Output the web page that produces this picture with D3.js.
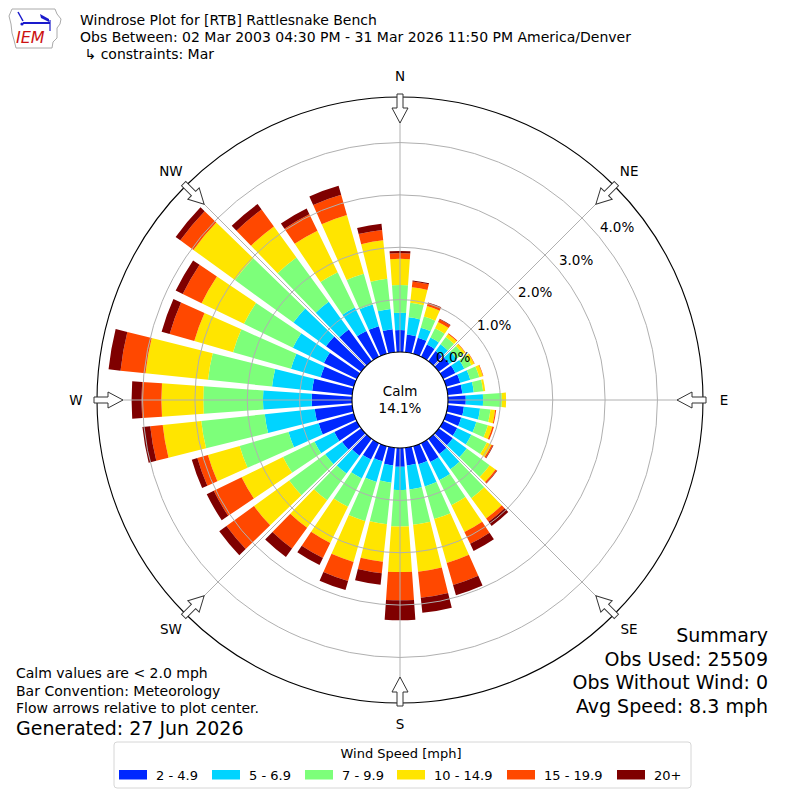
<!DOCTYPE html>
<html>
<head>
<meta charset="utf-8">
<script src="https://cdn.jsdelivr.net/npm/d3@7"></script>
<style>
  body { margin: 0; background: #fff; }
  text { font-family: "DejaVu Sans", sans-serif; }
</style>
</head>
<body>
<script>
// wind direction bins (degrees, meteorological)
const directions = [0, 10, 20, 30, 40, 50, 60, 70, 80, 90, 100, 110, 120, 130, 140, 150, 160, 170,
                    180, 190, 200, 210, 220, 230, 240, 250, 260, 270, 280, 290, 300, 310, 320, 330, 340, 350];
const speedBins = ["2 - 4.9", "5 - 6.9", "7 - 9.9", "10 - 14.9", "15 - 19.9", "20+"];

// frequency (%) per direction for each speed bin
const s2to5   = [0.42, 0.34, 0.32, 0.26, 0.24, 0.25, 0.26, 0.28, 0.28, 0.34, 0.31, 0.30, 0.30, 0.33, 0.36, 0.40, 0.36, 0.34,
                 0.36, 0.34, 0.30, 0.35, 0.40, 0.45, 0.48, 0.70, 0.72, 0.77, 0.77, 0.66, 0.70, 0.83, 0.75, 0.55, 0.55, 0.44];
const s5to7   = [0.33, 0.33, 0.20, 0.15, 0.16, 0.17, 0.19, 0.20, 0.22, 0.33, 0.31, 0.30, 0.30, 0.33, 0.36, 0.39, 0.44, 0.46,
                 0.44, 0.33, 0.41, 0.40, 0.42, 0.40, 0.42, 0.60, 0.96, 0.93, 0.77, 0.59, 0.66, 0.77, 0.65, 0.50, 0.43, 0.39];
const s7to10  = [0.53, 0.28, 0.22, 0.20, 0.17, 0.15, 0.15, 0.18, 0.18, 0.36, 0.20, 0.23, 0.33, 0.54, 0.68, 0.53, 0.65, 0.68,
                 0.70, 0.80, 0.78, 0.60, 0.63, 0.85, 0.67, 0.97, 1.22, 1.14, 1.23, 1.15, 1.04, 1.38, 1.05, 0.75, 0.61, 0.58];
const s10to15 = [0.50, 0.30, 0.21, 0.13, 0.07, 0.05, 0.06, 0.07, 0.04, 0.08, 0.09, 0.09, 0.10, 0.14, 0.48, 0.57, 0.87, 0.90,
                 0.87, 0.72, 0.81, 0.77, 0.65, 0.83, 0.88, 0.63, 0.74, 0.80, 1.20, 0.77, 0.90, 0.98, 0.73, 0.88, 1.17, 0.74];
const s15to20 = [0.11, 0.11, 0.06, 0.06, 0.02, 0.01, 0.01, 0.01, 0.00, 0.00, 0.02, 0.03, 0.03, 0.03, 0.08, 0.25, 0.44, 0.50,
                 0.54, 0.22, 0.38, 0.32, 0.49, 0.65, 0.59, 0.21, 0.24, 0.38, 0.48, 0.49, 0.40, 0.31, 0.40, 0.35, 0.40, 0.20];
const s20plus = [0.04, 0.02, 0.01, 0.01, 0.00, 0.00, 0.00, 0.00, 0.00, 0.00, 0.00, 0.00, 0.01, 0.01, 0.10, 0.15, 0.20, 0.29,
                 0.38, 0.22, 0.18, 0.15, 0.20, 0.17, 0.15, 0.11, 0.15, 0.19, 0.23, 0.16, 0.15, 0.11, 0.13, 0.12, 0.18, 0.12];

const ringTicks = [0, 1, 2, 3, 4];
const compass = ["N", "NE", "E", "SE", "S", "SW", "W", "NW"];
const calmPct = 14.1;
const summary = ["Summary", "Obs Used: 25509", "Obs Without Wind: 0", "Avg Speed: 8.3 mph"];
const notes = ["Calm values are < 2.0 mph", "Bar Convention: Meteorology", "Flow arrows relative to plot center."];

const colors = ["#0028ff", "#00d4ff", "#7dff7a", "#ffe500", "#ff4800", "#7f0000"];

const width = 800, height = 800;
const cx = 400, cy = 400;

const svg = d3.select("body").append("svg")
    .attr("width", width)
    .attr("height", height);

// radial scale: calm circle is the 0% baseline
const r = d3.scaleLinear().domain([0, 4.87]).range([48, 303]);
const rOuter = r(4.87);

const g = svg.append("g").attr("transform", `translate(${cx},${cy})`);

// stack the speed bins
const rows = directions.map((d, i) => ({
    dir: d,
    b0: s2to5[i], b1: s5to7[i], b2: s7to10[i], b3: s10to15[i], b4: s15to20[i], b5: s20plus[i]
}));
const keys = ["b0", "b1", "b2", "b3", "b4", "b5"];
const stacked = d3.stack().keys(keys)(rows);

const halfWidth = 4 * Math.PI / 180;
const arc = d3.arc()
    .innerRadius(d => r(d[0]))
    .outerRadius(d => r(d[1]))
    .startAngle(d => d.data.dir * Math.PI / 180 - halfWidth)
    .endAngle(d => d.data.dir * Math.PI / 180 + halfWidth);

g.selectAll("g.layer")
    .data(stacked)
    .join("g")
    .attr("class", "layer")
    .attr("fill", (d, i) => colors[i])
    .selectAll("path")
    .data(d => d)
    .join("path")
    .attr("d", arc);

// grid circles
g.selectAll("circle.grid")
    .data(ringTicks.slice(1))
    .join("circle")
    .attr("class", "grid")
    .attr("r", d => r(d))
    .attr("fill", "none")
    .attr("stroke", "#b0b0b0")
    .attr("stroke-width", 1);

// radial grid lines
g.selectAll("line.spoke")
    .data(d3.range(8))
    .join("line")
    .attr("class", "spoke")
    .attr("x1", 0).attr("y1", 0)
    .attr("x2", i => rOuter * Math.sin(i * Math.PI / 4))
    .attr("y2", i => -rOuter * Math.cos(i * Math.PI / 4))
    .attr("stroke", "#b0b0b0")
    .attr("stroke-width", 1);

// outer frame
g.append("circle")
    .attr("r", rOuter)
    .attr("fill", "none")
    .attr("stroke", "#000")
    .attr("stroke-width", 1.1);

// flow arrows pointing to the center
const arrowPath = `M-3,${-rOuter - 3} L3,${-rOuter - 3} L3,${-rOuter + 11} L8,${-rOuter + 11}
    L0,${-rOuter + 26} L-8,${-rOuter + 11} L-3,${-rOuter + 11} Z`;
g.selectAll("path.arrow")
    .data(d3.range(8))
    .join("path")
    .attr("class", "arrow")
    .attr("d", arrowPath)
    .attr("transform", i => `rotate(${i * 45})`)
    .attr("fill", "#fff")
    .attr("stroke", "#333")
    .attr("stroke-width", 1);

// compass labels
g.selectAll("text.compass")
    .data(compass)
    .join("text")
    .attr("class", "compass")
    .attr("x", (d, i) => 324 * Math.sin(i * Math.PI / 4))
    .attr("y", (d, i) => -324 * Math.cos(i * Math.PI / 4))
    .attr("dy", "0.35em")
    .attr("text-anchor", "middle")
    .attr("font-size", 13.5)
    .text(d => d);

// ring labels
const labAng = 51.5 * Math.PI / 180;
g.selectAll("text.ring")
    .data(ringTicks)
    .join("text")
    .attr("class", "ring")
    .attr("x", d => (r(d) + 20) * Math.sin(labAng))
    .attr("y", d => -(r(d) + 20) * Math.cos(labAng))
    .attr("dy", "0.35em")
    .attr("text-anchor", "middle")
    .attr("font-size", 13.5)
    .text(d => d.toFixed(1) + "%");

// calm circle
g.append("circle")
    .attr("r", r(0))
    .attr("fill", "#fff")
    .attr("stroke", "#000")
    .attr("stroke-width", 1.1);
g.append("text")
    .attr("y", -9).attr("dy", "0.35em")
    .attr("text-anchor", "middle")
    .attr("font-size", 13.5)
    .text("Calm");
g.append("text")
    .attr("y", 8).attr("dy", "0.35em")
    .attr("text-anchor", "middle")
    .attr("font-size", 13.5)
    .text(calmPct.toFixed(1) + "%");

// titles
const titles = [
    "Windrose Plot for [RTB] Rattlesnake Bench",
    "Obs Between: 02 Mar 2003 04:30 PM - 31 Mar 2026 11:50 PM America/Denver",
    " \u21b3 constraints: Mar"
];
svg.selectAll("text.title")
    .data(titles)
    .join("text")
    .attr("class", "title")
    .attr("x", 80)
    .attr("y", (d, i) => 25 + i * 17)
    .attr("font-size", 14)
    .attr("xml:space", "preserve")
    .style("white-space", "pre")
    .text(d => d);

// IEM logo
const logo = svg.append("g");
logo.append("path")
    .attr("d", "M12,9 L55,9 L57,14 L61,19 L60,24 L57,28 L57,38 L53,42 L52,48 L16,48 L14,40 L12,33 L11,24 L9,16 Z")
    .attr("fill", "none").attr("stroke", "#aaa").attr("stroke-width", 1);
logo.append("line").attr("x1", 23).attr("y1", 23).attr("x2", 50).attr("y2", 23)
    .attr("stroke", "#1a1acc").attr("stroke-width", 2);
logo.append("line").attr("x1", 18).attr("y1", 12).attr("x2", 23).attr("y2", 21)
    .attr("stroke", "#1a1acc").attr("stroke-width", 1.5);
logo.append("path").attr("d", "M40,14 L49,19 L49,22 L41,18 Z").attr("fill", "#1a1acc");
logo.append("line").attr("x1", 50).attr("y1", 20).attr("x2", 50).attr("y2", 31)
    .attr("stroke", "#1a1acc").attr("stroke-width", 1.2);
logo.append("circle").attr("cx", 22).attr("cy", 24).attr("r", 1.6).attr("fill", "#1a1acc");
logo.append("text")
    .attr("x", 16).attr("y", 43)
    .attr("font-family", "Liberation Serif, serif")
    .attr("font-style", "italic")
    .attr("font-size", 16)
    .attr("fill", "#cc1111")
    .text("IEM");

// notes at bottom left
svg.selectAll("text.note")
    .data(notes)
    .join("text")
    .attr("class", "note")
    .attr("x", 16)
    .attr("y", (d, i) => 678 + i * 17.5)
    .attr("font-size", 14)
    .text(d => d);
svg.append("text")
    .attr("x", 16).attr("y", 735)
    .attr("font-size", 19)
    .text("Generated: 27 Jun 2026");

// summary at bottom right
svg.selectAll("text.summary")
    .data(summary)
    .join("text")
    .attr("class", "summary")
    .attr("x", 768)
    .attr("y", (d, i) => 642 + i * 23.5)
    .attr("text-anchor", "end")
    .attr("font-size", 19)
    .text(d => d);

// legend
const legend = svg.append("g");
legend.append("rect")
    .attr("x", 114).attr("y", 742)
    .attr("width", 577).attr("height", 46)
    .attr("rx", 3)
    .attr("fill", "#fff")
    .attr("stroke", "#d6d6d6");
legend.append("text")
    .attr("x", 401).attr("y", 758)
    .attr("text-anchor", "middle")
    .attr("font-size", 13)
    .text("Wind Speed [mph]");
const swatchX = [119, 212, 305, 397, 507, 617];
const items = legend.selectAll("g.item")
    .data(speedBins)
    .join("g")
    .attr("class", "item")
    .attr("transform", (d, i) => `translate(${swatchX[i]},770)`);
items.append("rect")
    .attr("width", 28).attr("height", 9.5)
    .attr("fill", (d, i) => colors[i]);
items.append("text")
    .attr("x", 37).attr("y", 5).attr("dy", "0.35em")
    .attr("font-size", 13)
    .text(d => d);
</script>
</body>
</html>
